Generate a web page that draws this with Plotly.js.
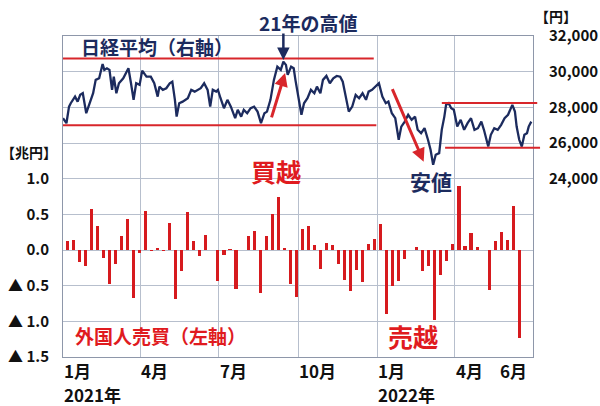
<!DOCTYPE html>
<html>
<head>
<meta charset="utf-8">
<script src="https://cdn.plot.ly/plotly-3.0.1.min.js"></script>
<style>html,body{margin:0;padding:0;background:#fff;}#chart{width:600px;height:406px;}</style>
</head>
<body>
<div id="chart"></div>
<script>
// ---- data ----
const weekDates = [
 '2021-01-06','2021-01-13','2021-01-20','2021-01-27','2021-02-03','2021-02-10','2021-02-17','2021-02-24',
 '2021-03-03','2021-03-10','2021-03-17','2021-03-24','2021-03-31','2021-04-07','2021-04-14','2021-04-21',
 '2021-04-28','2021-05-05','2021-05-12','2021-05-19','2021-05-26','2021-06-02','2021-06-09','2021-06-16',
 '2021-06-23','2021-06-30','2021-07-07','2021-07-14','2021-07-21','2021-07-28','2021-08-04','2021-08-11',
 '2021-08-18','2021-08-25','2021-09-01','2021-09-08','2021-09-15','2021-09-22','2021-09-29','2021-10-06',
 '2021-10-13','2021-10-20','2021-10-27','2021-11-03','2021-11-10','2021-11-17','2021-11-24','2021-12-01',
 '2021-12-08','2021-12-15','2021-12-22','2021-12-29','2022-01-05','2022-01-12','2022-01-19','2022-01-26',
 '2022-02-02','2022-02-09','2022-02-16','2022-02-23','2022-03-02','2022-03-09','2022-03-16','2022-03-23',
 '2022-03-30','2022-04-06','2022-04-13','2022-04-20','2022-04-27','2022-05-04','2022-05-11','2022-05-18',
 '2022-05-25','2022-06-01','2022-06-08','2022-06-15'
];
// foreign investors net buying (trillion yen)
const foreignFlow = [
 0.13, 0.135, -0.17, -0.23, 0.57, 0.34, -0.11, -0.47, -0.19, 0.2, 0.43, -0.67, -0.04,
 0.55, -0.02, 0.03, -0.02, 0.38, -0.68, -0.29, 0.53, 0.12, -0.08, 0.21, -0.005, -0.43,
 -0.07, 0.01, -0.54, -0.005, 0.2, 0.27, -0.6, 0.19, 0.5, 0.74, 0.03, -0.48, -0.66,
 0.29, 0.33, 0.065, -0.27, 0.1, 0.075, -0.19, -0.42, -0.57, -0.28, -0.45, 0.09, 0.15,
 0.36, -0.9, -0.5, -0.43, -0.13, 0.005, 0.04, -0.29, -0.22, -0.98, -0.35, -0.15,
 0.09, 0.9, 0.056, 0.24, 0.04, 0.005, -0.56, 0.13, 0.25, 0.14, 0.62, -1.23
];
const nikkeiDates = [
 '2021-01-01','2021-01-05','2021-01-08','2021-01-10','2021-01-15','2021-01-18','2021-01-21','2021-01-24',
 '2021-01-28','2021-02-01','2021-02-05','2021-02-08','2021-02-12','2021-02-16','2021-02-18','2021-02-21',
 '2021-02-24','2021-02-27','2021-03-01','2021-03-04','2021-03-07','2021-03-12','2021-03-15','2021-03-18',
 '2021-03-21','2021-03-24','2021-03-27','2021-03-31','2021-04-03','2021-04-06','2021-04-08','2021-04-13',
 '2021-04-17','2021-04-21','2021-04-23','2021-04-27','2021-05-01','2021-05-05','2021-05-08','2021-05-11',
 '2021-05-13','2021-05-16','2021-05-20','2021-05-26','2021-05-30','2021-06-03','2021-06-06','2021-06-10',
 '2021-06-14','2021-06-18','2021-06-21','2021-06-24','2021-06-28','2021-06-30','2021-07-03','2021-07-07',
 '2021-07-11','2021-07-15','2021-07-20','2021-07-23','2021-07-27','2021-07-30','2021-08-03','2021-08-07',
 '2021-08-11','2021-08-15','2021-08-19','2021-08-23','2021-08-26','2021-08-30','2021-09-03','2021-09-07',
 '2021-09-11','2021-09-14','2021-09-17','2021-09-19','2021-09-23','2021-09-26','2021-09-28','2021-10-01',
 '2021-10-05','2021-10-08','2021-10-12','2021-10-16','2021-10-20','2021-10-23','2021-10-27','2021-10-30',
 '2021-11-03','2021-11-07','2021-11-11','2021-11-15','2021-11-19','2021-11-22','2021-11-26','2021-11-29',
 '2021-12-03','2021-12-07','2021-12-11','2021-12-15','2021-12-19','2021-12-22','2021-12-26','2021-12-30',
 '2022-01-03','2022-01-07','2022-01-11','2022-01-14','2022-01-18','2022-01-22','2022-01-26','2022-01-29',
 '2022-02-02','2022-02-06','2022-02-10','2022-02-14','2022-02-17','2022-02-21','2022-02-25','2022-03-01',
 '2022-03-04','2022-03-07','2022-03-10','2022-03-14','2022-03-17','2022-03-20','2022-03-22','2022-03-25',
 '2022-03-28','2022-03-31','2022-04-04','2022-04-08','2022-04-12','2022-04-16','2022-04-20','2022-04-24',
 '2022-04-28','2022-05-02','2022-05-05','2022-05-10','2022-05-13','2022-05-17','2022-05-21','2022-05-25',
 '2022-05-29','2022-06-02','2022-06-07','2022-06-10','2022-06-12','2022-06-15','2022-06-18','2022-06-21',
 '2022-06-24','2022-06-26','2022-06-29'
];
const nikkeiValues = [
 27390,27110,28040,28230,28600,28320,28700,28790,
 27670,28230,28790,29540,29630,30430,30100,30190,
 30100,28980,29720,28790,29350,29630,29910,30190,
 29350,28420,29350,29260,30060,29820,29720,29720,
 29350,28600,29160,28980,29070,29350,29440,28420,
 27480,28230,28320,28510,28980,28880,28980,29070,
 29350,28980,28040,28980,28880,28980,28510,27950,
 28420,28040,27390,27860,27480,27860,27670,27950,
 28040,27760,27110,27670,27760,28420,29540,30280,
 30100,30560,30380,29820,30280,30190,29540,28600,
 27580,28230,28510,28980,28790,29160,28790,29540,
 29760,29350,29630,29760,29720,29440,28420,27760,
 28040,28700,28510,28790,28420,28880,28980,29160,
 29350,28600,28230,28320,27670,27390,26180,26920,
 27200,27580,27300,27480,26740,26550,26830,26180,
 25620,24780,25340,25430,26740,27480,28140,28230,
 27950,27860,26920,27300,26740,27110,27390,26740,
 26830,27200,26740,25800,26460,26830,26740,27020,
 27390,27580,28140,27760,26920,26180,25800,26460,
 26550,26920,27200
];
const quarterTicks = ['2021-01-01','2021-04-01','2021-07-01','2021-10-01','2022-01-01','2022-04-01'];
const monthLabels = ['1月','4月','7月','10月','1月','4月','6月'];
const monthLabelDates = ['2021-01-01','2021-04-01','2021-07-01','2021-10-01','2022-01-01','2022-04-01','2022-05-23'];
const yearLabels = ['2021年','2022年'];
const yearLabelDates = ['2021-01-01','2022-01-01'];
const leftTickVals = [-1.5,-1.0,-0.5,0.0,0.5,1.0];
const leftTickText = ['▲ 1.5','▲ 1.0','▲ 0.5','0.0','0.5','1.0'];
const rightTickVals = [24000,26000,28000,30000,32000];

const NAVY = '#1c2b5e';
const RED = '#e01b1f';
const LRED = '#d8262b';
const GRID = '#b7bfcd';
const FONT = '"Noto Sans CJK JP", "Noto Sans", sans-serif';

const traces = [
  {
    type: 'bar', x: weekDates, y: foreignFlow, yaxis: 'y',
    width: 3.6 * 24 * 3600 * 1000,
    marker: {color: '#d61a1e', line: {width: 0}},
    hoverinfo: 'skip', showlegend: false
  },
  {
    type: 'scatter', mode: 'lines', x: nikkeiDates, y: nikkeiValues, yaxis: 'y2',
    line: {color: NAVY, width: 2.3},
    hoverinfo: 'skip', showlegend: false
  }
];

const annotations = [];
monthLabels.forEach((t, i) => annotations.push({
  text: t, x: monthLabelDates[i], xref: 'x', xanchor: 'left',
  y: -0.042, yref: 'paper', yanchor: 'middle', showarrow: false, borderpad: 0,
  font: {family: FONT, size: 17, color: '#111', weight: 700}
}));
yearLabels.forEach((t, i) => annotations.push({
  text: t, x: yearLabelDates[i], xref: 'x', xanchor: 'left',
  y: -0.116, yref: 'paper', yanchor: 'middle', showarrow: false, borderpad: 0,
  font: {family: FONT, size: 17, color: '#111', weight: 700}
}));
const txt = (text, x, y, size, color, xanchor) => annotations.push({
  text: text, x: x, y: y, xref: 'paper', yref: 'paper', xanchor: xanchor || 'center',
  yanchor: 'middle', showarrow: false, font: {family: FONT, size: size, color: color, weight: 700}
});
txt('【兆円】', -0.072, 0.638, 14, '#111');
txt('【円】', 1.049, 1.062, 14, '#111');
txt('日経平均（右軸）', 0.034, 0.967, 19, NAVY, 'left');
txt('21年の高値', 0.521, 1.043, 19, NAVY);
txt('安値', 0.783, 0.548, 21, NAVY);
txt('買越', 0.453, 0.578, 25, RED);
txt('売越', 0.745, 0.066, 25, RED);
txt('外国人売買（左軸）', 0.022, 0.068, 19, RED, 'left');
// arrows
annotations.push({x: '2021-09-14', y: 30660, xref: 'x', yref: 'y2', ax: 0, ay: -28, text: '',
  showarrow: true, arrowhead: 2, arrowsize: 1, arrowwidth: 2.5, arrowcolor: NAVY});
annotations.push({x: '2021-09-16', y: 29930, xref: 'x', yref: 'y2', ax: -14, ay: 46, text: '',
  showarrow: true, arrowhead: 2, arrowsize: 0.9, arrowwidth: 3, arrowcolor: LRED});
annotations.push({x: '2022-02-24', y: 24950, xref: 'x', yref: 'y2', ax: -32, ay: -74, text: '',
  showarrow: true, arrowhead: 2, arrowsize: 0.9, arrowwidth: 3, arrowcolor: LRED});

const shapes = [
  {type: 'line', xref: 'x', yref: 'y2', x0: '2021-01-01', x1: '2021-12-28', y0: 30740, y1: 30740, line: {color: LRED, width: 2}},
  {type: 'line', xref: 'x', yref: 'y2', x0: '2021-01-01', x1: '2021-12-31', y0: 27000, y1: 27000, line: {color: LRED, width: 2}},
  {type: 'line', xref: 'paper', yref: 'y2', x0: 0.806, x1: 1.009, y0: 28250, y1: 28250, line: {color: LRED, width: 2}},
  {type: 'line', xref: 'paper', yref: 'y2', x0: 0.813, x1: 1.015, y0: 25730, y1: 25730, line: {color: LRED, width: 2}}
];

const layout = {
  width: 600, height: 406,
  margin: {l: 63, r: 67, t: 36, b: 49},
  paper_bgcolor: '#fff', plot_bgcolor: '#fff',
  font: {family: FONT, size: 15, color: '#111', weight: 700},
  showlegend: false,
  bargap: 0,
  xaxis: {
    type: 'date', range: ['2021-01-01', '2022-07-01'],
    tickmode: 'array', tickvals: quarterTicks, showticklabels: false,
    showgrid: true, gridcolor: GRID, gridwidth: 1,
    showline: true, linecolor: '#8e97aa', linewidth: 1, mirror: true,
    ticks: '', zeroline: false
  },
  yaxis: {
    range: [-1.5, 3.0], tickmode: 'array', tickvals: leftTickVals, ticktext: leftTickText,
    showgrid: true, gridcolor: GRID, gridwidth: 1, zeroline: false,
    showline: true, linecolor: '#8e97aa', linewidth: 1, mirror: true,
    ticks: 'outside', ticklen: 10, tickcolor: 'rgba(0,0,0,0)',
    tickfont: {family: FONT, size: 15, color: '#111', weight: 700}
  },
  yaxis2: {
    overlaying: 'y', side: 'right', range: [14000, 32000],
    tickmode: 'array', tickvals: rightTickVals, tickformat: ',d',
    showgrid: true, gridcolor: GRID, gridwidth: 1, zeroline: false,
    ticks: 'outside', ticklen: 12, tickcolor: 'rgba(0,0,0,0)',
    tickfont: {family: FONT, size: 15, color: '#111', weight: 700}
  },
  annotations: annotations,
  shapes: shapes
};

Plotly.newPlot('chart', traces, layout, {staticPlot: true, displayModeBar: false});
</script>
</body>
</html>
